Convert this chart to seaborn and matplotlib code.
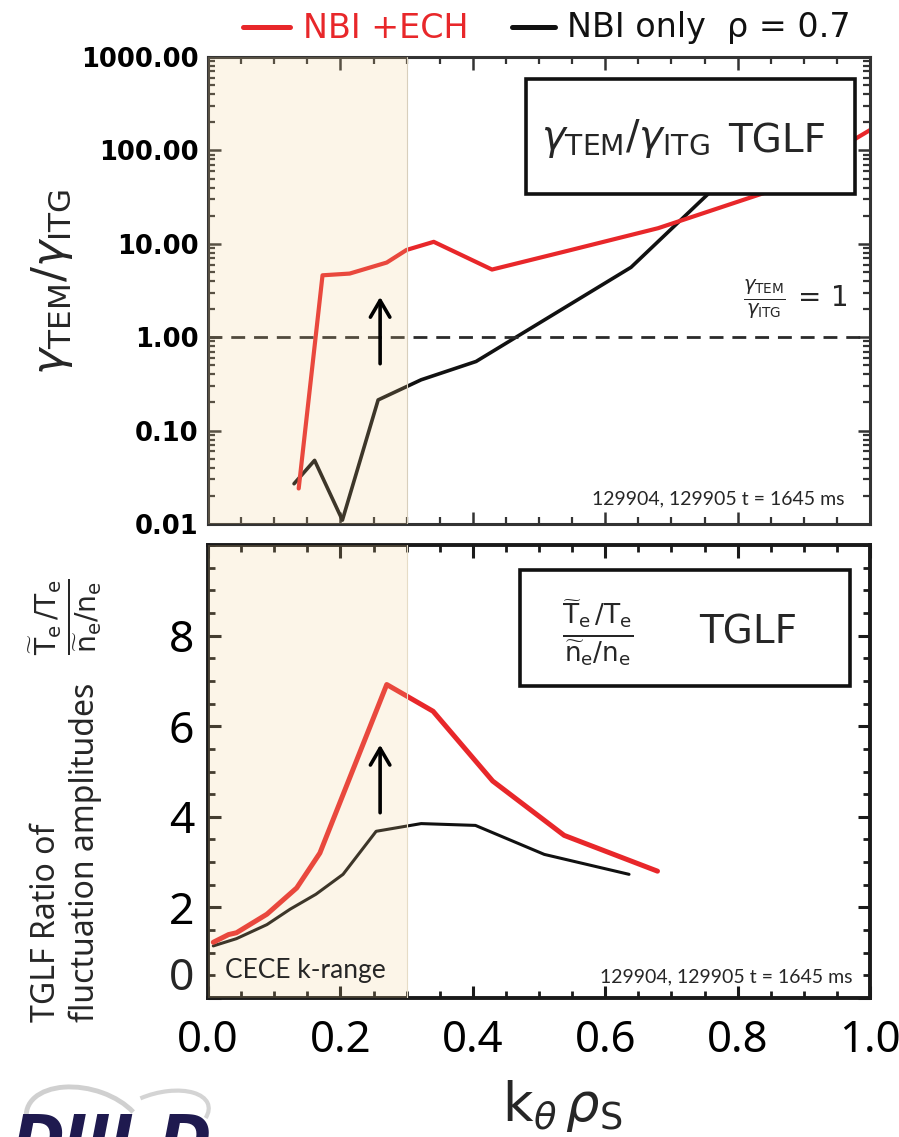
import numpy as np
import pandas as pd
import matplotlib
matplotlib.use("Agg")
import matplotlib.pyplot as plt
import seaborn as sns
from matplotlib.patches import Rectangle, Arc
from matplotlib.lines import Line2D
from matplotlib.ticker import MultipleLocator, LogLocator, NullFormatter

# ---------------- data ----------------
k_top_ech = [0.137, 0.173, 0.214, 0.27, 0.30, 0.341, 0.429, 0.54, 0.68, 0.84, 1.0]
g_top_ech = [0.024, 4.6, 4.8, 6.3, 8.6, 10.5, 5.3, 8.3, 14.7, 35, 165]

k_top_nbi = [0.130, 0.161, 0.203, 0.257, 0.322, 0.405, 0.639, 0.757, 0.84]
g_top_nbi = [0.027, 0.048, 0.011, 0.213, 0.35, 0.55, 5.6, 35, 130]

k_bot_ech = [0.008, 0.031, 0.043, 0.089, 0.134, 0.169, 0.27, 0.34, 0.43, 0.538, 0.679]
r_bot_ech = [1.23, 1.40, 1.44, 1.85, 2.43, 3.2, 6.92, 6.33, 4.79, 3.59, 2.80]

k_bot_nbi = [0.008, 0.043, 0.089, 0.124, 0.163, 0.204, 0.254, 0.322, 0.404, 0.508, 0.636]
r_bot_nbi = [1.15, 1.31, 1.62, 1.96, 2.29, 2.73, 3.68, 3.85, 3.81, 3.17, 2.73]

top_yticks = [0.01, 0.1, 1, 10, 100, 1000]
top_yticklabels = ["0.01", "0.10", "1.00", "10.00", "100.00", "1000.00"]
bot_yticks = [0, 2, 4, 6, 8]
bot_yticklabels = ["", "2", "4", "6", "8"]   # "0" is drawn slightly raised, as in the original
xticks = [0.0, 0.2, 0.4, 0.6, 0.8, 1.0]
xticklabels = ["0.0", "0.2", "0.4", "0.6", "0.8", "1.0"]
cece_range = (0.0, 0.3)
footnote = "129904, 129905 t = 1645 ms"

# ---------------- style ----------------
sns.set_theme(style="ticks")
plt.rcParams["font.family"] = ["DejaVu Sans"]
plt.rcParams["mathtext.fontset"] = "dejavusans"
LATO = ["Lato", "DejaVu Sans"]
NOTO = ["Noto Sans", "DejaVu Sans"]

RED = "#e8272a"
BLK = "#111111"
SHADE = (240/255, 205/255, 140/255)

W, H = 899, 1137
fig = plt.figure(figsize=(W/100, H/100), dpi=100)
fig.patch.set_facecolor("white")

def fx(px):
    return px / W

def fy(py):
    return 1 - py / H

L, R = 208, 870
ax1 = fig.add_axes([fx(L), fy(524), fx(R) - fx(L), fy(57) - fy(524)])
ax2 = fig.add_axes([fx(L), fy(998), fx(R) - fx(L), fy(545) - fy(998)])

# ---------------- top panel ----------------
top_ech = pd.DataFrame({"k": k_top_ech, "g": g_top_ech})
top_nbi = pd.DataFrame({"k": k_top_nbi, "g": g_top_nbi})
sns.lineplot(data=top_nbi, x="k", y="g", ax=ax1, color=BLK, linewidth=2.6,
             sort=False, estimator=None, zorder=2)
sns.lineplot(data=top_ech, x="k", y="g", ax=ax1, color=RED, linewidth=3.0,
             sort=False, estimator=None, zorder=2)
ax1.set_yscale("log")
ax1.set_xlim(0, 1)
ax1.set_ylim(0.01, 1000)
ax1.axhline(1.0, color="#2a2a2a", lw=2.0, dashes=(5, 3.2), zorder=2.5)
ax1.axvspan(*cece_range, color=SHADE, alpha=0.2, lw=0, zorder=3)
ax1.axvline(cece_range[1], color="#d8cfbc", lw=0.8, zorder=3)

ax1.set_yticks(top_yticks)
ax1.set_yticklabels(top_yticklabels)
ax1.yaxis.set_minor_locator(LogLocator(base=10, subs=np.arange(2, 10)))
ax1.yaxis.set_minor_formatter(NullFormatter())
ax1.set_xticks(xticks)
ax1.xaxis.set_minor_locator(MultipleLocator(0.05))
ax1.set_xticklabels([])
ax1.set_xlabel("")
ax1.set_ylabel("")
ax1.tick_params(which="both", direction="in", top=True, right=True, colors="#333333")
ax1.tick_params(which="major", length=9, width=1.8)
ax1.tick_params(which="minor", length=5, width=1.6)
ax1.tick_params(axis="y", labelsize=18.5, pad=7, labelcolor="black")
for lbl in ax1.get_yticklabels():
    lbl.set_fontweight("bold")
for s in ax1.spines.values():
    s.set_linewidth(2.2)
    s.set_color("#333333")

ax1.annotate("", xy=(0.26, 2.7), xytext=(0.26, 0.52),
             arrowprops=dict(arrowstyle="->,head_length=0.6,head_width=0.35",
                             lw=2.6, color="black", mutation_scale=20,
                             shrinkA=0, shrinkB=0), zorder=6)

ax1.add_patch(Rectangle((0.481, 0.707), 0.497, 0.245, transform=ax1.transAxes,
                        facecolor="white", edgecolor=BLK, lw=2.6, zorder=7))
ax1.text(0.63, 0.825, r"$\gamma_{\rm TEM}/\gamma_{\rm ITG}$", transform=ax1.transAxes,
         fontsize=29, ha="center", va="center", zorder=8)
ax1.text(0.86, 0.818, "TGLF", transform=ax1.transAxes, fontsize=28,
         ha="center", va="center", zorder=8)
ax1.text(0.887, 0.48, r"$\frac{\gamma_{\rm TEM}}{\gamma_{\rm ITG}}\,=\,1$", transform=ax1.transAxes,
         fontsize=20, ha="center", va="center", zorder=8)
ax1.text(0.962, 0.0535, footnote, transform=ax1.transAxes, fontsize=14,
         family=LATO, ha="right", va="center", zorder=8)

# ---------------- bottom panel ----------------
bot_ech = pd.DataFrame({"k": k_bot_ech, "r": r_bot_ech})
bot_nbi = pd.DataFrame({"k": k_bot_nbi, "r": r_bot_nbi})
sns.lineplot(data=bot_nbi, x="k", y="r", ax=ax2, color=BLK, linewidth=2.2,
             sort=False, estimator=None, zorder=2)
sns.lineplot(data=bot_ech, x="k", y="r", ax=ax2, color=RED, linewidth=3.6,
             sort=False, estimator=None, zorder=2)
ax2.set_xlim(0, 1)
ax2.set_ylim(0, 10)
ax2.axvspan(*cece_range, color=SHADE, alpha=0.2, lw=0, zorder=3)
ax2.axvline(cece_range[1], color="#e6dcc6", lw=0.8, zorder=3)
ax2.set_yticks(bot_yticks)
ax2.set_yticklabels(bot_yticklabels)
ax2.yaxis.set_minor_locator(MultipleLocator(0.5))
ax2.set_xticks(xticks)
ax2.set_xticklabels(xticklabels)
ax2.xaxis.set_minor_locator(MultipleLocator(0.05))
ax2.set_xlabel("")
ax2.set_ylabel("")
ax2.tick_params(which="both", direction="in", top=True, right=True, colors="#1a1a1a")
ax2.tick_params(which="major", length=9, width=2.2)
ax2.tick_params(which="minor", length=5, width=2.0)
ax2.tick_params(axis="y", labelsize=32, pad=10, labelcolor="black")
ax2.tick_params(axis="x", labelsize=31.5, pad=15, labelcolor="black")
for lbl in ax2.get_xticklabels() + ax2.get_yticklabels():
    lbl.set_family(NOTO)
for s in ax2.spines.values():
    s.set_linewidth(2.8)
    s.set_color("#1a1a1a")
# raised zero label on the y axis
fig.text(fx(194), fy(979), "0", fontsize=32, family=NOTO, ha="right", va="center")

ax2.annotate("", xy=(0.26, 5.59), xytext=(0.26, 4.09),
             arrowprops=dict(arrowstyle="->,head_length=0.6,head_width=0.35",
                             lw=2.6, color="black", mutation_scale=20,
                             shrinkA=0, shrinkB=0), zorder=6)

ax2.add_patch(Rectangle((0.471, 0.689), 0.499, 0.256, transform=ax2.transAxes,
                        facecolor="white", edgecolor=BLK, lw=2.6, zorder=7))
ax2.text(0.589, 0.806, r"$\frac{\widetilde{\mathrm{T}}_{\mathrm{e}}\,/\mathrm{T}_{\mathrm{e}}}{\widetilde{\mathrm{n}}_{\mathrm{e}}/\mathrm{n}_{\mathrm{e}}}$",
         transform=ax2.transAxes, fontsize=27, ha="center", va="center", zorder=8)
ax2.text(0.816, 0.806, "TGLF", transform=ax2.transAxes, fontsize=28,
         ha="center", va="center", zorder=8)
ax2.text(0.974, 0.046, footnote, transform=ax2.transAxes, fontsize=14,
         family=LATO, ha="right", va="center", zorder=8)
ax2.text(0.026, 0.06, "CECE k-range", transform=ax2.transAxes, fontsize=19,
         family=LATO, ha="left", va="center", zorder=8)

# ---------------- figure-level labels ----------------
fig.text(fx(52), fy(282), r"$\gamma_{\rm TEM}/\gamma_{\rm ITG}$", rotation=90,
         fontsize=32, ha="center", va="center")
fig.text(fx(66), fy(1022), "TGLF Ratio of\nfluctuation amplitudes", rotation=90,
         fontsize=23, family=NOTO, ha="center", va="bottom",
         multialignment="left", linespacing=1.25)
fig.text(fx(66), fy(617),
         r"$\frac{\widetilde{\mathrm{T}}_{\mathrm{e}}\,/\mathrm{T}_{\mathrm{e}}}{\widetilde{\mathrm{n}}_{\mathrm{e}}/\mathrm{n}_{\mathrm{e}}}$",
         rotation=90, fontsize=29, ha="center", va="center")
fig.text(fx(562), fy(1106), r"$\mathrm{k}_{\theta}\,\rho_{\mathrm{S}}$", fontsize=38,
         ha="center", va="center")

# legend row
fig.add_artist(Line2D([fx(243), fx(290)], [fy(27), fy(27)], transform=fig.transFigure,
                      color=RED, lw=3.6))
fig.text(fx(303), fy(28), "NBI +ECH", color=RED, fontsize=24, ha="left", va="center")
fig.add_artist(Line2D([fx(512), fx(555)], [fy(27), fy(27)], transform=fig.transFigure,
                      color=BLK, lw=3.6))
fig.text(fx(567), fy(28), "NBI only", color=BLK, fontsize=24, ha="left", va="center")
fig.text(fx(727), fy(28), "\u03c1 = 0.7", color=BLK, fontsize=24, ha="left", va="center")

# DIII-D logo (partially visible at bottom)
fig.add_artist(Arc((0.85, (H - 1125) / 100), 1.20, 0.72, angle=-15, theta1=30, theta2=190,
                   transform=fig.dpi_scale_trans, color="#d0d0d0", lw=3.5))
fig.add_artist(Arc((1.60, (H - 1118) / 100), 1.00, 0.50, angle=15, theta1=-15, theta2=120,
                   transform=fig.dpi_scale_trans, color="#d4d4d4", lw=3.0))
fig.text(fx(13), fy(1113), "DIII-D", fontsize=45, fontweight="bold", fontstyle="italic",
         color="#1f1a4f", ha="left", va="top")

fig.savefig("out.png", dpi=100, facecolor="white")
